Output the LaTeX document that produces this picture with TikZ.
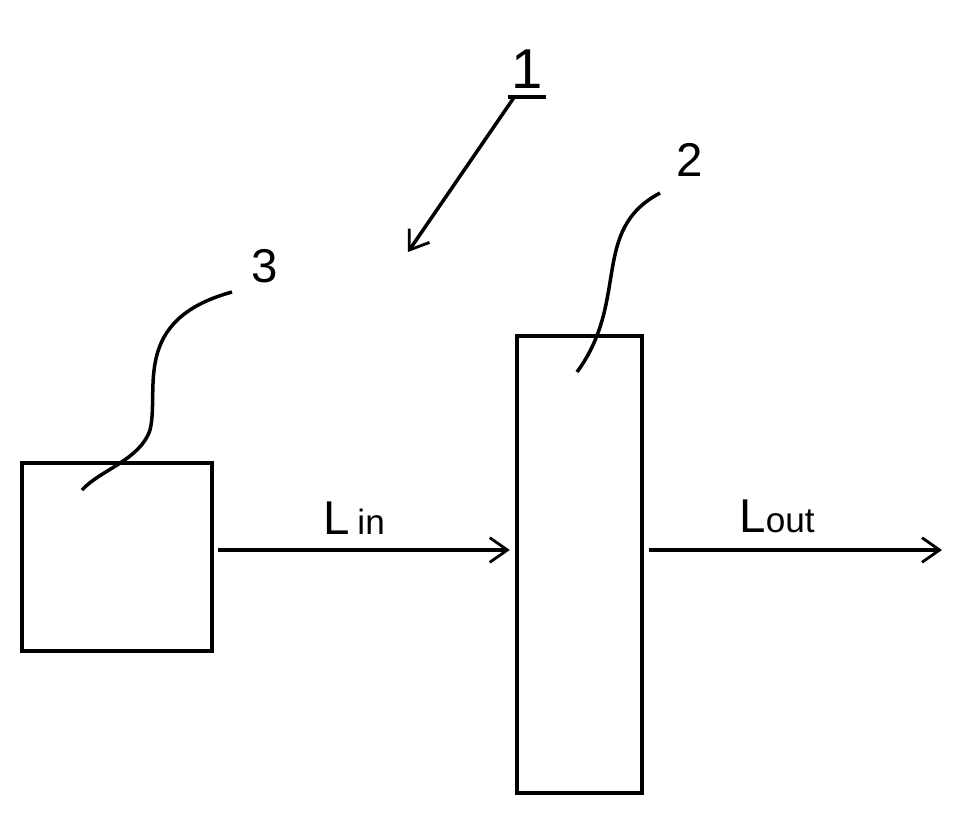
\documentclass[tikz,border=0pt]{standalone}
\usepackage{fontspec}
\setmainfont{Liberation Sans}
\usetikzlibrary{arrows.meta}
\begin{document}
\begin{tikzpicture}[x=0.02cm,y=-0.02cm,
  box/.style={draw,line width=2.2pt,inner sep=0},
  ln/.style={line width=2pt},
  arr/.style={ln,-{Straight Barb[length=10pt,width=14pt,line width=1.6pt]}},
  lbl/.style={font=\fontsize{27}{30}\selectfont,inner sep=0}]
\useasboundingbox (0,0) rectangle (964,818);
\node[box,minimum width=190*0.02cm,minimum height=188*0.02cm] (b3) at (117,557) {};
\node[box,minimum width=125*0.02cm,minimum height=457*0.02cm] (b2) at (579.5,564.5) {};
\coordinate (e) at (942,550);
\draw[arr] ([xshift=2.5pt]b3.east |- 0,550) -- ([xshift=-3pt]b2.west |- 0,550);
\draw[arr] ([xshift=3pt]b2.east |- 0,550) -- (e);
\node[lbl] (lin) at (354,518) {L\,{\fontsize{20}{22}\selectfont in}};
\node[lbl] (lout) at (777,516) {L{\fontsize{20}{22}\selectfont out}};
\node[lbl,font=\fontsize{32}{36}\selectfont] (n1) at (527,69) {1};
\draw[ln] (508,97) -- (546,97);
\coordinate (a1) at (515,96);
\coordinate (t1) at (408,252);
\draw[arr] (a1) -- (t1);
\node[lbl] (n2) at (690,160) {2};
\node[lbl] (n3) at (265,266) {3};
\coordinate (p2) at (577,372);
\coordinate (p3) at (82,490);
\draw[ln] (660,193) .. controls (590,230) and (630,300) .. (p2);
\draw[ln] (232,292) .. controls (130,320) and (160,390) .. (150,430) .. controls (140,460) and (100,470) .. (p3);
\end{tikzpicture}
\end{document}
